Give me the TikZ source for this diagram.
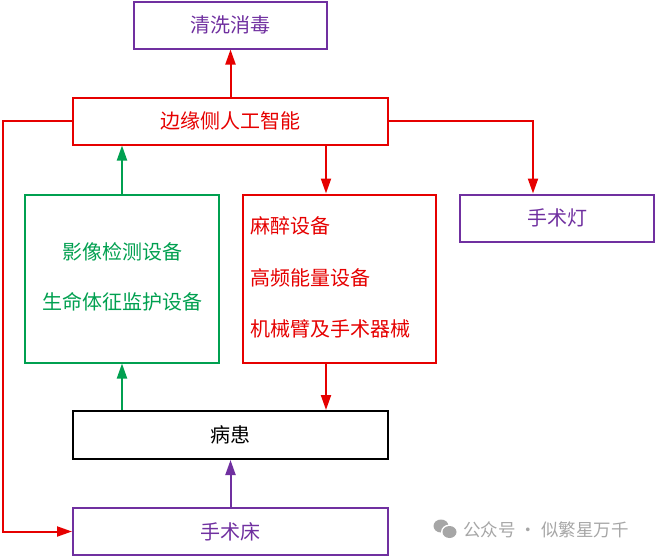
\documentclass[tikz,border=0pt]{standalone}
\usepackage{fontspec}
\setmainfont{Noto Sans CJK SC}
\usetikzlibrary{arrows.meta,calc}
\definecolor{cpurple}{HTML}{7030A0}
\definecolor{cred}{HTML}{E60000}
\definecolor{cgreen}{HTML}{00A050}
\definecolor{cgray}{HTML}{A6A6A6}
\begin{document}
\begin{tikzpicture}[x=1pt,y=-1pt,
  box/.style={draw,line width=2pt,fill=white,inner sep=0pt,font=\fontsize{20}{22}\selectfont},
  txt/.style={font=\fontsize{20}{22}\selectfont,inner sep=0pt},
  conn/.style={line width=2pt,-{Triangle[length=15pt,width=10pt]}},
  wm/.style={text=cgray,font=\fontsize{17.5}{19}\selectfont,inner sep=0pt}]
\useasboundingbox (0,0) rectangle (655,557);
\node[box,draw=cpurple,text=cpurple,minimum width=193pt,minimum height=47pt] (clean) at (230.5,25) {清洗消毒};
\node[box,draw=cred,text=cred,minimum width=315pt,minimum height=47pt] (edge) at (230.5,121) {边缘侧人工智能};
\node[box,draw=cgreen,minimum width=194pt,minimum height=168pt] (green) at (122,278.5) {};
\node[box,draw=cred,minimum width=193pt,minimum height=168pt] (redbox) at (339.5,278.5) {};
\node[box,draw=cpurple,text=cpurple,minimum width=194pt,minimum height=47pt] (lamp) at (557,218) {手术灯};
\node[box,draw=black,text=black,minimum width=315pt,minimum height=48pt] (patient) at (230.5,435) {病患};
\node[box,draw=cpurple,text=cpurple,minimum width=315pt,minimum height=47pt] (bed) at (230.5,531.5) {手术床};
% texts inside big boxes
\node[txt,text=cgreen] (g1) at (122,252) {影像检测设备};
\node[txt,text=cgreen] (g2) at (122,302) {生命体征监护设备};
\node[txt,text=cred,anchor=west] (r1) at (250,226) {麻醉设备};
\node[txt,text=cred,anchor=west] (r2) at (250,278) {高频能量设备};
\node[txt,text=cred,anchor=west] (r3) at (250,329) {机械臂及手术器械};
% helper coordinates
\coordinate (rx) at (326,0);
\coordinate (lx) at (533,0);
\coordinate (gx) at (122,0);
\coordinate (lft) at (2.5,121);
% connectors
\draw[conn,draw=cred] (edge.north) -- (clean.south);
\draw[conn,draw=cgreen] (green.north) -- (green.north |- edge.south);
\draw[conn,draw=cred] (edge.south -| rx) -- (redbox.north -| rx);
\draw[conn,draw=cred] (edge.east) -| (lamp.north -| lx);
\draw[conn,draw=cred] (edge.west) -- (lft) |- (bed.west);
\draw[conn,draw=cgreen] (patient.north -| gx) -- (green.south -| gx);
\draw[conn,draw=cred] (redbox.south -| rx) -- (patient.north -| rx);
\draw[conn,draw=cpurple] (bed.north) -- (patient.south);
% watermark
\fill[cgray] (441,526) ellipse (7.5pt and 6.5pt);
\fill[white] (449.5,532) ellipse (8.5pt and 7.5pt);
\fill[cgray] (449.5,532) ellipse (7pt and 6pt);
\node[wm,anchor=west] (wmtext) at (463,530) {公众号 · 似繁星万千};
\end{tikzpicture}
\end{document}
